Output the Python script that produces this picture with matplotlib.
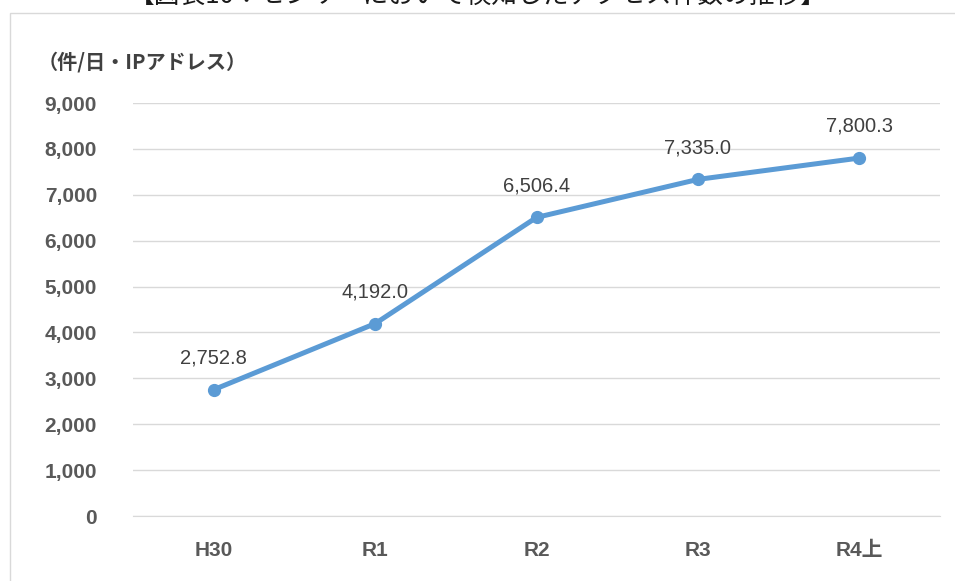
import matplotlib
matplotlib.use("Agg")
import matplotlib.pyplot as plt
from matplotlib.patches import Rectangle
from matplotlib.ticker import FuncFormatter, MultipleLocator

categories = ["H30", "R1", "R2", "R3", "R4上"]
values = [2752.8, 4192.0, 6506.4, 7335.0, 7800.3]
y_max = 9000
y_step = 1000

title = "【図表10：センサーにおいて検知したアクセス件数の推移】"
unit_label = "（件/日・IPアドレス）"

line_color = "#5B9BD5"
tick_color = "#595959"
label_color = "#404040"
grid_color = "#D9D9D9"

num_font = ["Liberation Sans", "Noto Sans CJK JP"]
jp_font = ["Noto Sans CJK JP", "DejaVu Sans"]

fig = plt.figure(figsize=(9.55, 5.81), dpi=100)
W, H = 955, 581

# outer chart frame
fig.patches.append(Rectangle((10 / W, -0.1), 1.2, (581 - 13) / H + 0.1,
                             transform=fig.transFigure, fill=False,
                             edgecolor="#D9D9D9", linewidth=1.0))

ax = fig.add_axes([133 / W, (581 - 516) / H, (940 - 133) / W, (516 - 103) / H])
x = list(range(len(categories)))
ax.plot(x, values, color=line_color, linewidth=3.6, marker="o",
        markersize=8.5, solid_capstyle="round", zorder=3)

for xi, v in zip(x, values):
    ax.annotate(f"{v:,.1f}", (xi, v), xytext=(0, 16), textcoords="offset points",
                ha="center", va="bottom", fontsize=14.5, color=label_color,
                family=num_font)

ax.set_xlim(-0.5, len(categories) - 0.5)
ax.set_ylim(0, y_max)
ax.yaxis.set_major_locator(MultipleLocator(y_step))
ax.yaxis.set_major_formatter(FuncFormatter(lambda v, p: f"{int(v):,}"))
ax.grid(axis="y", color=grid_color, linewidth=1.0)
ax.set_axisbelow(True)
for s in ["top", "right", "left"]:
    ax.spines[s].set_visible(False)
ax.spines["bottom"].set_color(grid_color)
ax.tick_params(axis="both", length=0)
ax.tick_params(axis="y", pad=26)
ax.tick_params(axis="x", pad=18)
ax.set_xticks(x)
ax.set_xticklabels(categories)
for lab in ax.get_yticklabels() + ax.get_xticklabels():
    lab.set_family(num_font)
    lab.set_fontweight("bold")
    lab.set_fontsize(15)
    lab.set_color(tick_color)

fig.text(38 / W, 1 - 62 / H, unit_label, family=jp_font, fontweight="bold",
         fontsize=14.5, color=label_color, ha="left", va="center")

# title sits partly above the top edge
fig.text(478 / W, 1 - (-3) / H, title, family=jp_font, fontsize=18.5,
         color="#1a1a1a", ha="center", va="center")

fig.savefig("out.png", dpi=100)
